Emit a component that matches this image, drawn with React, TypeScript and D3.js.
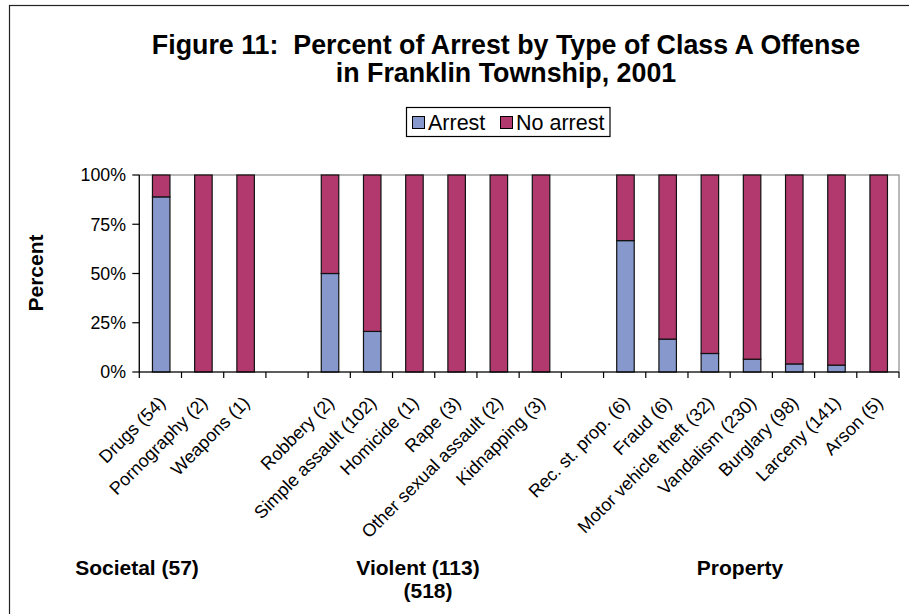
import React from "react";
import * as d3 from "d3";

const categories = [
  "Drugs (54)", "Pornography (2)", "Weapons (1)", "",
  "Robbery (2)", "Simple assault (102)", "Homicide (1)", "Rape (3)",
  "Other sexual assault (2)", "Kidnapping (3)", "",
  "Rec. st. prop. (6)", "Fraud (6)", "Motor vehicle theft (32)", "Vandalism (230)",
  "Burglary (98)", "Larceny (141)", "Arson (5)",
];
const arrestPct = [0.889, 0, 0, null, 0.5, 0.206, 0, 0, 0, 0, null, 0.667, 0.167, 0.094, 0.065, 0.041, 0.035, 0];
const seriesNames = ["Arrest", "No arrest"];
const seriesColors = ["#8698CC", "#B2396D"];
const yTicks = [0, 0.25, 0.5, 0.75, 1];
const titleLines = ["Figure 11:  Percent of Arrest by Type of Class A Offense", "in Franklin Township, 2001"];
const groupLabels = [
  { text: "Societal (57)", x: 137, y: 575 },
  { text: "Violent (113)", x: 418, y: 575 },
  { text: "(518)", x: 428, y: 598 },
  { text: "Property", x: 740, y: 575 },
];

const W = 909, H = 614;
const left = 139.3, right = 899, top = 175, bottom = 372;

export default function App() {
  const x = d3.scaleBand<number>().domain(d3.range(categories.length)).range([left, right]).paddingInner(0).paddingOuter(0);
  const y = d3.scaleLinear().domain([0, 1]).range([bottom, top]);
  const bw = 17.5;
  const font = "Arial, 'Liberation Sans', sans-serif";
  const legendX = [412, 500];
  return (
    <div style={{ position: "fixed", left: 0, top: 0 }}>
      <svg width={W} height={H} style={{ display: "block", background: "#fff" }} fontFamily={font}>
        <rect x={9.5} y={5.5} width={1000} height={1000} fill="#fff" stroke="#222" strokeWidth={1.2} />
        {titleLines.map((t, i) => (
          <text key={i} x={506} y={54 + i * 28} textAnchor="middle" fontWeight="bold" fontSize={26.8} fill="#000" style={{ whiteSpace: "pre" }}>{t}</text>
        ))}
        {/* legend */}
        <rect x={406.5} y={107.5} width={203.5} height={29} fill="#fff" stroke="#000" strokeWidth={1.2} />
        {seriesNames.map((s, i) => {
          const lx = legendX[i];
          return (
            <g key={s}>
              <rect x={lx + 0.5} y={116.5} width={12} height={12} fill={seriesColors[i]} stroke="#000" strokeWidth={1} />
              <text x={lx + 16} y={129.5} fontSize={21.5} fill="#000">{s}</text>
            </g>
          );
        })}
        {/* plot border */}
        <rect x={left} y={top} width={right - left} height={bottom - top} fill="none" stroke="#8a8a8a" strokeWidth={1.2} />
        {/* bars */}
        {arrestPct.map((v, i) => {
          if (v === null) return null;
          const cx = (x(i) as number) + x.bandwidth() / 2 + 0.8;
          return (
            <g key={i}>
              <rect x={cx - bw / 2} y={y(v)} width={bw} height={y(0) - y(v)} fill={seriesColors[0]} stroke="#111" strokeWidth={1.2} />
              <rect x={cx - bw / 2} y={y(1)} width={bw} height={y(v) - y(1)} fill={seriesColors[1]} stroke="#111" strokeWidth={1.2} />
            </g>
          );
        })}
        {/* y axis */}
        <line x1={left} x2={left} y1={top} y2={bottom} stroke="#000" strokeWidth={1.2} />
        {yTicks.map((t) => (
          <g key={t}>
            <line x1={left - 7} x2={left} y1={y(t)} y2={y(t)} stroke="#000" strokeWidth={1.2} />
            <text x={126} y={y(t)} dy="0.36em" textAnchor="end" fontSize={17.8} fill="#000">{d3.format(".0%")(t)}</text>
          </g>
        ))}
        {/* x axis */}
        <line x1={left} x2={right} y1={bottom} y2={bottom} stroke="#000" strokeWidth={1.2} />
        {d3.range(categories.length + 1).map((i) => {
          const tx = left + i * x.bandwidth();
          return <line key={i} x1={tx} x2={tx} y1={bottom} y2={bottom + 6} stroke="#000" strokeWidth={1.2} />;
        })}
        {categories.map((c, i) => {
          if (!c) return null;
          const cx = (x(i) as number) + x.bandwidth() / 2;
          return (
            <text key={i} transform={`translate(${cx + 6},${404}) rotate(-45)`} textAnchor="end" fontSize={18} fill="#000">{c}</text>
          );
        })}
        <text transform={`translate(43,273) rotate(-90)`} textAnchor="middle" fontWeight="bold" fontSize={21} fill="#000">Percent</text>
        {groupLabels.map((g) => (
          <text key={g.text} x={g.x} y={g.y} textAnchor="middle" fontWeight="bold" fontSize={21} fill="#000">{g.text}</text>
        ))}
      </svg>
    </div>
  );
}
